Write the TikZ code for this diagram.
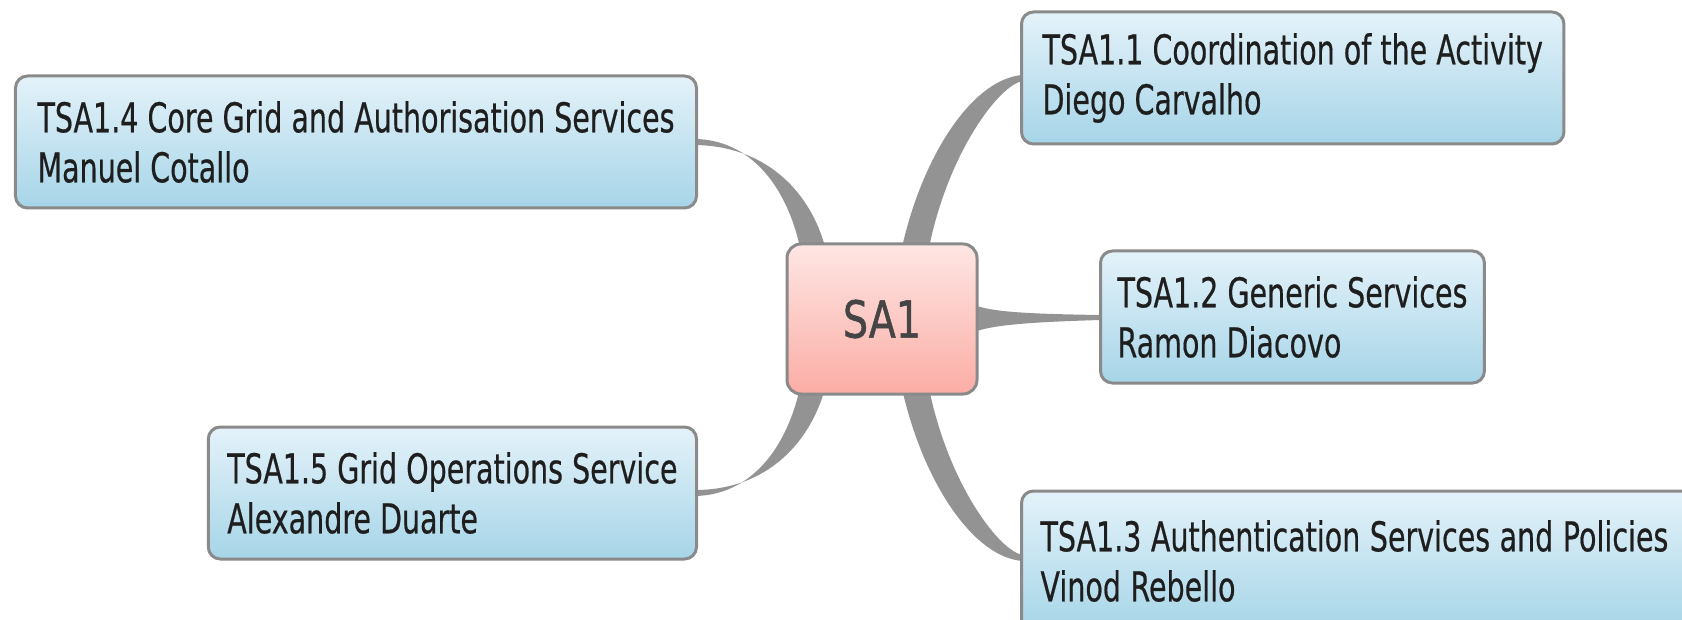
\documentclass[tikz,border=0pt]{standalone}
\usepackage{fontspec}
\usepackage{graphicx}
\setmainfont{DejaVu Sans}
\newfontfamily\topicfont[FakeBold=0.6]{DejaVu Sans}
\newfontfamily\hubfont[FakeBold=1.2]{DejaVu Sans}
\usetikzlibrary{calc,backgrounds}
\definecolor{bordergray}{HTML}{8A8A8A}
\definecolor{branchgray}{HTML}{939393}
\definecolor{bluetop}{HTML}{E4F2F9}
\definecolor{bluebot}{HTML}{A6D5E8}
\definecolor{pinktop}{HTML}{FEE6E4}
\definecolor{pinkbot}{HTML}{FBADA5}
\definecolor{txtcol}{HTML}{1E1E1E}
\definecolor{hubtxt}{HTML}{454545}
\newlength\reflen
\newlength\hublen
\newcommand\hsq{1}
\newcommand\hubsq{1}
\newcommand\sq[1]{\scalebox{\hsq}[1]{#1}}
\begin{document}
\settowidth\reflen{\fontsize{41}{50}\topicfont TSA1.4 Core Grid and Authorisation Services}%
\pgfmathsetmacro\hsq{637/\reflen}%
\settowidth\hublen{\fontsize{51}{60}\hubfont SA1}%
\pgfmathsetmacro\hubsq{78/\hublen}%
\begin{tikzpicture}[x=1pt,y=-1pt,
  topic/.style={draw=bordergray, line width=3pt, rounded corners=12pt,
    top color=bluetop, bottom color=bluebot, minimum height=132pt,
    inner xsep=19pt, align=left, text=txtcol,
    font=\fontsize{41}{50}\topicfont},
  hub/.style={draw=bordergray, line width=3pt, rounded corners=14pt,
    top color=pinktop, bottom color=pinkbot, minimum width=190pt,
    minimum height=150pt, text=hubtxt, font=\fontsize{51}{60}\hubfont},
  branch/.style={fill=branchgray}]
\useasboundingbox (0,0) rectangle (1682,620);

\node[hub] (sa) at (882,319) {\scalebox{\hubsq}[1]{SA1}};
\node[topic, anchor=west, inner xsep=21pt] (t1) at (1020,78)
  {\sq{TSA1.1 Coordination of the Activity}\\\sq{Diego Carvalho}};
\node[topic, anchor=west, inner xsep=17pt] (t2) at (1099,317)
  {\sq{TSA1.2 Generic Services}\\\sq{Ramon Diacovo}};
\node[topic, anchor=west, text width=660pt, minimum height=140pt] (t3) at (1020,561)
  {\sq{TSA1.3 Authentication Services and Policies}\\\sq{Vinod Rebello}};
\node[topic, anchor=east, inner xsep=22pt] (t4) at (698,142)
  {\sq{TSA1.4 Core Grid and Authorisation Services}\\\sq{Manuel Cotallo}};
\node[topic, anchor=east] (t5) at (698,493)
  {\sq{TSA1.5 Grid Operations Service}\\\sq{Alexandre Duarte}};

\begin{pgfonlayer}{background}
\fill[white] (0,0) rectangle (1682,620);
% to TSA1.1
\fill[branch] ($(sa.center)+(20,-60)$) -- (903,243)
  .. controls (925,150) and (975,78) .. ($(t1.west)+(3,-3)$)
  -- ($(t1.west)+(3,3)$)
  .. controls (1000,84) and (950,150) .. (930,243)
  -- ($(sa.center)+(50,-60)$) -- cycle;
% to TSA1.2
\fill[branch] ($(sa.center)+(80,-13)$) -- (977,306)
  .. controls (995,312) and (1030,314) .. ($(t2.west)+(2,-2)$)
  -- ($(t2.west)+(2,3)$)
  .. controls (1030,322) and (995,325) .. (977,331)
  -- ($(sa.center)+(80,12)$) -- cycle;
% to TSA1.3
\fill[branch] ($(sa.center)+(50,60)$) -- (930,393)
  .. controls (950,486) and (1000,552) .. ($(t3.west)+(3,-6)$)
  -- ($(t3.west)+(3,0)$)
  .. controls (975,558) and (925,486) .. (903,393)
  -- ($(sa.center)+(20,60)$) -- cycle;
% to TSA1.4
\fill[branch] ($(sa.center)+(-80,-60)$) -- (799,243)
  .. controls (785,185) and (750,140) .. ($(t4.east)+(-3,-3)$)
  -- ($(t4.east)+(-3,3)$)
  .. controls (765,146) and (808,190) .. (824,243)
  -- ($(sa.center)+(-55,-60)$) -- cycle;
% to TSA1.5
\fill[branch] ($(sa.center)+(-55,60)$) -- (824,392)
  .. controls (808,445) and (765,490) .. ($(t5.east)+(-3,-3)$)
  -- ($(t5.east)+(-3,3)$)
  .. controls (750,495) and (785,450) .. (799,392)
  -- ($(sa.center)+(-80,60)$) -- cycle;
\end{pgfonlayer}
\end{tikzpicture}
\end{document}
